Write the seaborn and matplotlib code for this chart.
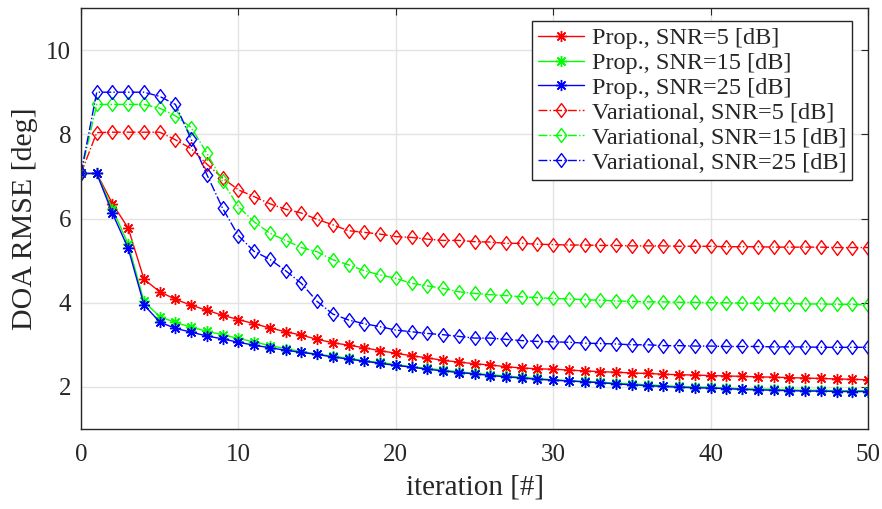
import numpy as np
import pandas as pd
import matplotlib
matplotlib.use("Agg")
import matplotlib.pyplot as plt
from matplotlib.path import Path
import seaborn as sns

iterations = list(range(51))

prop5 = [7.07, 7.07, 6.35, 5.77, 4.56, 4.26, 4.08, 3.94, 3.82, 3.70, 3.60, 3.50, 3.40, 3.31, 3.23,
         3.13, 3.05, 2.99, 2.93, 2.86, 2.80, 2.74, 2.69, 2.63, 2.59, 2.55, 2.52, 2.48, 2.45, 2.43, 2.42,
         2.40, 2.38, 2.36, 2.35, 2.33, 2.32, 2.30, 2.29, 2.28, 2.27, 2.26, 2.25, 2.24, 2.23, 2.22,
         2.21, 2.20, 2.19, 2.18, 2.17]
prop15 = [7.07, 7.07, 6.22, 5.39, 4.03, 3.67, 3.53, 3.42, 3.32, 3.24, 3.15, 3.07, 2.98, 2.91, 2.84,
          2.78, 2.73, 2.68, 2.62, 2.58, 2.53, 2.48, 2.44, 2.40, 2.36, 2.32, 2.29, 2.26, 2.23, 2.20, 2.17,
          2.15, 2.13, 2.11, 2.09, 2.07, 2.05, 2.03, 2.01, 2.00, 1.99, 1.97, 1.96, 1.95, 1.94, 1.93,
          1.92, 1.92, 1.91, 1.91, 1.91]
prop25 = [7.07, 7.07, 6.12, 5.29, 3.95, 3.54, 3.39, 3.30, 3.21, 3.14, 3.06, 2.99, 2.93, 2.87, 2.82,
          2.77, 2.71, 2.66, 2.61, 2.56, 2.51, 2.47, 2.42, 2.38, 2.34, 2.31, 2.27, 2.24, 2.21, 2.18, 2.16,
          2.14, 2.12, 2.10, 2.07, 2.05, 2.03, 2.01, 1.99, 1.98, 1.97, 1.96, 1.94, 1.93, 1.92, 1.91,
          1.90, 1.90, 1.89, 1.89, 1.89]
var5 = [7.07, 8.04, 8.05, 8.05, 8.05, 8.05, 7.87, 7.66, 7.29, 6.96, 6.68, 6.52, 6.35, 6.22, 6.13,
        5.98, 5.85, 5.71, 5.67, 5.63, 5.57, 5.55, 5.51, 5.48, 5.48, 5.45, 5.44, 5.41, 5.41, 5.39, 5.38,
        5.37, 5.37, 5.36, 5.36, 5.35, 5.35, 5.35, 5.34, 5.34, 5.34, 5.33, 5.33, 5.33, 5.32, 5.32,
        5.32, 5.32, 5.31, 5.31, 5.31]
var15 = [7.07, 8.71, 8.71, 8.71, 8.71, 8.62, 8.44, 8.16, 7.55, 6.88, 6.28, 5.92, 5.65, 5.48, 5.31,
         5.21, 5.02, 4.90, 4.76, 4.66, 4.58, 4.46, 4.40, 4.34, 4.26, 4.22, 4.19, 4.17, 4.14, 4.12, 4.10,
         4.09, 4.07, 4.06, 4.04, 4.03, 4.02, 4.02, 4.01, 4.01, 4.00, 4.00, 3.99, 3.99, 3.98, 3.98,
         3.97, 3.97, 3.96, 3.96, 3.95]
var25 = [7.07, 9.00, 9.00, 9.00, 9.00, 8.90, 8.71, 7.88, 7.04, 6.24, 5.59, 5.22, 5.03, 4.76, 4.46,
         4.03, 3.73, 3.59, 3.50, 3.43, 3.35, 3.31, 3.27, 3.24, 3.20, 3.16, 3.16, 3.13, 3.10, 3.08, 3.07,
         3.06, 3.04, 3.03, 3.02, 3.00, 3.00, 2.98, 2.98, 2.97, 2.97, 2.96, 2.96, 2.96, 2.95, 2.95,
         2.95, 2.94, 2.94, 2.94, 2.94]

labels = ["Prop., SNR=5 [dB]", "Prop., SNR=15 [dB]", "Prop., SNR=25 [dB]",
          "Variational, SNR=5 [dB]", "Variational, SNR=15 [dB]", "Variational, SNR=25 [dB]"]
series = [prop5, prop15, prop25, var5, var15, var25]
colors = ["#ff0000", "#00ff00", "#0000ff", "#ff0000", "#00ff00", "#0000ff"]
x_ticks = [0, 10, 20, 30, 40, 50]
y_ticks = [2, 4, 6, 8, 10]

sns.set_theme(style="white")
plt.rcParams['font.family'] = ['Liberation Serif', 'DejaVu Serif']
plt.rcParams['mathtext.fontset'] = 'stix'

fig = plt.figure(figsize=(8.82, 5.09), dpi=100)
ax = fig.add_axes([81/882, 1 - 429/509, (868-81)/882, (429-8)/509])

asterisk = (8, 2, 0)
diamond = Path([(0, 1), (0.75, 0), (0, -1), (-0.75, 0), (0, 1)],
               [Path.MOVETO, Path.LINETO, Path.LINETO, Path.LINETO, Path.CLOSEPOLY])

for i, (lab, ys, col) in enumerate(zip(labels, series, colors)):
    df = pd.DataFrame({"iteration": iterations, "rmse": ys})
    if i < 3:
        sns.lineplot(data=df, x="iteration", y="rmse", ax=ax, color=col, label=lab,
                     marker=asterisk, markersize=8, markeredgewidth=1.0,
                     markeredgecolor=col, linewidth=1.0, linestyle='-')
    else:
        sns.lineplot(data=df, x="iteration", y="rmse", ax=ax, color=col, label=lab,
                     marker=diamond, markersize=10, markeredgewidth=1.0,
                     markerfacecolor='none', markeredgecolor=col,
                     linewidth=1.0, linestyle='-.')

ax.set_xlim(0, 50)
ax.set_ylim(1, 11)
ax.set_xticks(x_ticks)
ax.set_yticks(y_ticks)
ax.grid(True, color='#e3e3e3', linewidth=1.0)
ax.set_axisbelow(True)
for s in ax.spines.values():
    s.set_color('#262626')
    s.set_linewidth(1.0)
    s.set_visible(True)
ax.tick_params(direction='in', length=5, width=0.8, colors='#262626',
               top=True, right=True, labelsize=18)
ax.tick_params(axis='x', pad=11)
ax.tick_params(axis='y', pad=7)
ax.set_xlabel("iteration [#]", fontsize=21, color='#262626', labelpad=6)
ax.set_ylabel("DOA RMSE [deg]", fontsize=21.5, color='#262626', labelpad=6)

leg = ax.legend(loc='upper right', bbox_to_anchor=(0.98, 0.969), borderaxespad=0,
                fontsize=17.5, handlelength=1.9, labelspacing=0.12, handletextpad=0.3,
                borderpad=0.25, frameon=True, fancybox=False, framealpha=1)
leg.get_frame().set_edgecolor('#262626')
leg.get_frame().set_linewidth(1.0)

fig.savefig("out.png", dpi=100)
